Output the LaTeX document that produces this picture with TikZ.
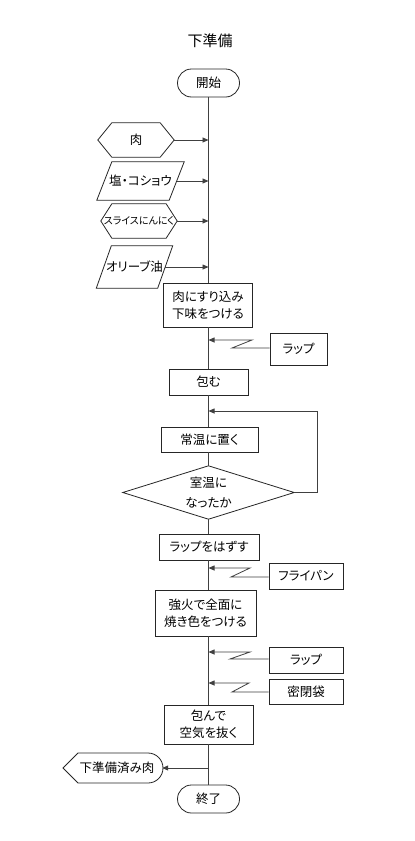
\documentclass[tikz,border=0pt]{standalone}
\usepackage{fontspec}
\setmainfont[RawFeature=+palt]{Noto Sans CJK JP}
\usetikzlibrary{arrows.meta,calc}
\begin{document}
\begin{tikzpicture}[x=1pt,y=-1pt,
  base/.style={font=\fontsize{12.5}{17}\selectfont, align=center, inner sep=0pt, text=black},
  proc/.style={base, draw=black!85, fill=white, line width=0.8pt},
  ln/.style={draw=black!75, line width=0.8pt},
  arr/.style={ln, -{Triangle[length=6pt,width=5pt]}},
  outl/.style={draw=black!85, line width=0.8pt}]
\useasboundingbox[fill=white] (0,0) rectangle (415,841);

% title
\node[base, font=\fontsize{15}{18}\selectfont] (title) at (210,41) {下準備};

% terminals
\node[proc, rounded corners=14pt, minimum width=62, minimum height=28] (start) at (208.5,83) {開始};
\node[proc, rounded corners=14pt, minimum width=62, minimum height=28] (owari) at (208.5,799) {終了};

% inputs
\node[base, minimum width=76, minimum height=34] (niku) at (136,140) {肉};
\draw[outl] (niku.west) -- ($(niku.north west)+(14,0)$) -- ($(niku.north east)+(-14,0)$) -- (niku.east)
  -- ($(niku.south east)+(-14,0)$) -- ($(niku.south west)+(14,0)$) -- cycle;

\node[base, minimum width=87, minimum height=38] (shio) at (140.5,181) {塩・コショウ};
\draw[outl] ($(shio.north west)+(15,0)$) -- (shio.north east) -- ($(shio.south east)+(-15,0)$) -- (shio.south west) -- cycle;

\node[base, font=\fontsize{10}{12}\selectfont, minimum width=76, minimum height=34] (slice) at (139,221) {スライスにんにく};
\draw[outl] (slice.west) -- ($(slice.north west)+(11,0)$) -- ($(slice.north east)+(-11,0)$) -- (slice.east)
  -- ($(slice.south east)+(-11,0)$) -- ($(slice.south west)+(11,0)$) -- cycle;

\node[base, minimum width=76, minimum height=42] (olive) at (134.5,267) {オリーブ油};
\draw[outl] ($(olive.north west)+(15,0)$) -- (olive.north east) -- ($(olive.south east)+(-15,0)$) -- (olive.south west) -- cycle;

% main processes
\node[proc, minimum width=89, minimum height=44] (sur) at (208,305) {肉にすり込み\\下味をつける};
\node[proc, minimum width=79, minimum height=26] (tsutsumu) at (208.5,382) {包む};
\node[proc, minimum width=97, minimum height=25] (oku) at (209.5,439.5) {常温に置く};
\node[base, font=\fontsize{12.5}{19.5}\selectfont, minimum width=171, minimum height=53] (dia) at (208.5,492.5) {室温に\\なったか};
\draw[outl] (dia.west) -- (dia.north) -- (dia.east) -- (dia.south) -- cycle;
\node[proc, minimum width=100, minimum height=26] (hazusu) at (209,547) {ラップをはずす};
\node[proc, minimum width=101, minimum height=46] (kyobi) at (205.5,613) {強火で全面に\\焼き色をつける};
\node[proc, minimum width=89, minimum height=39] (nuku) at (208.5,724.5) {包んで\\空気を抜く};

% side resources
\node[proc, minimum width=57, minimum height=32] (rap1) at (298.5,349) {ラップ};
\node[proc, minimum width=74, minimum height=26] (pan) at (306,576) {フライパン};
\node[proc, minimum width=74, minimum height=26] (rap2) at (306,660) {ラップ};
\node[proc, minimum width=74, minimum height=25] (bag) at (306,691.5) {密閉袋};

% output
\node[base, minimum width=90, minimum height=30] (sumi) at (117,768) {下準備済み肉};
\draw[outl] (63,768) -- (78,753) -- (148,753) arc[start angle=-90, end angle=90, radius=15] -- (78,783) -- cycle;

% junction coordinates on the main line
\coordinate (jniku) at (208.5,140);
\coordinate (jshio) at (208.5,181);
\coordinate (jslice) at (208.5,221);
\coordinate (jolive) at (208.5,267);
\coordinate (j1) at (208.5,340);
\coordinate (jloop) at (208.5,411);
\coordinate (j2) at (208.5,568);
\coordinate (j3) at (208.5,652);
\coordinate (j4) at (208.5,683);
\coordinate (jout) at (208.5,768);

% main line
\draw[ln] (start.south) -- (start.south |- sur.north);
\draw[ln] (start.south |- sur.south) -- (tsutsumu.north);
\draw[ln] (tsutsumu.south) -- (tsutsumu.south |- oku.north);
\draw[ln] (tsutsumu.south |- oku.south) -- (dia.north);
\draw[ln] (dia.south) -- (dia.south |- hazusu.north);
\draw[ln] (dia.south |- hazusu.south) -- (dia.south |- kyobi.north);
\draw[ln] (dia.south |- kyobi.south) -- (nuku.north);
\draw[ln] (nuku.south) -- (owari.north);

% input arrows
\draw[arr] (niku.east) -- (jniku);
\draw[arr] ($(shio.east)+(-7.5,0)$) -- (jshio);
\draw[arr] (slice.east) -- (jslice);
\draw[arr] ($(olive.east)+(-7.5,0)$) -- (jolive);

% resource arrows (zigzag)
\draw[arr] (rap1.west |- 0,348) -- (232,348) -- (252,340) -- (j1);
\draw[arr] (pan.west |- 0,577) -- (231,577) -- (250,568) -- (j2);
\draw[arr] (rap2.west |- 0,659) -- (230,659) -- (250,652) -- (j3);
\draw[arr] (bag.west |- 0,692) -- (232,692) -- (249,683) -- (j4);

% loop back
\draw[arr] (dia.east) -- ++(23,0) |- (jloop);

% output arrow
\draw[arr] (jout) -- (sumi.east);
\end{tikzpicture}
\end{document}
